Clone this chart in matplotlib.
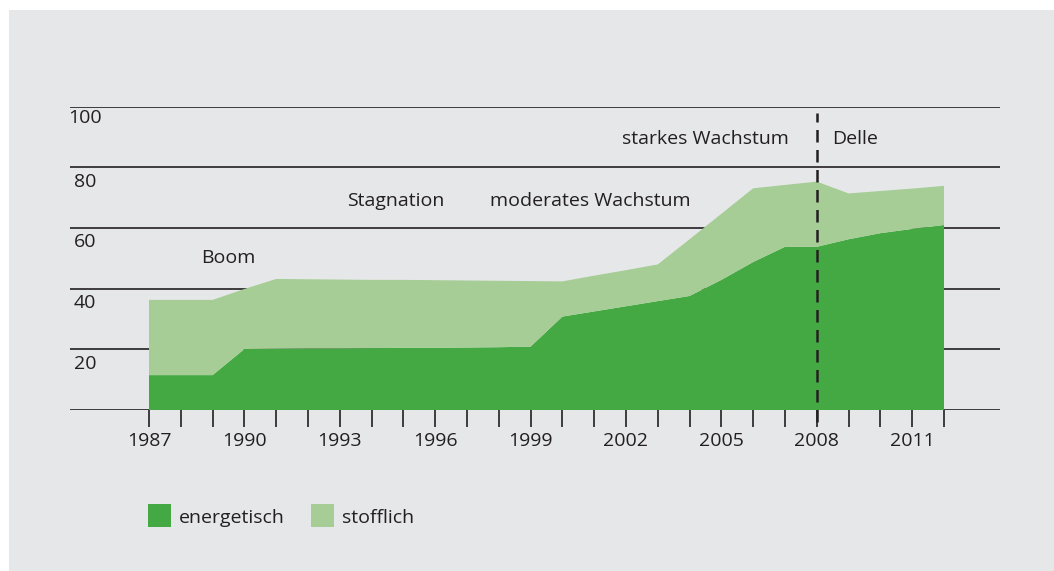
import matplotlib.pyplot as plt
from matplotlib.patches import Rectangle

# data
years = list(range(1987, 2013))
energetisch = [11.5, 11.5, 11.5, 20.1, 20.2, 20.3, 20.3, 20.4, 20.5, 20.5, 20.6, 20.7, 20.9,
               30.8, 32.5, 34.2, 35.9, 37.6, 42.9, 48.8, 53.8, 53.8, 56.3, 58.3, 59.7, 61.0]
gesamt = [36.3, 36.3, 36.3, 39.9, 43.2, 43.1, 43.0, 42.9, 42.9, 42.8, 42.7, 42.6, 42.5,
          42.4, 44.3, 46.1, 48.0, 56.3, 64.7, 73.1, 74.2, 75.3, 71.4, 72.2, 73.0, 73.9]
stofflich = [g - e for g, e in zip(gesamt, energetisch)]

yticks = [20, 40, 60, 80, 100]
xlabels = [1987, 1990, 1993, 1996, 1999, 2002, 2005, 2008, 2011]

phases = [("Boom", 1989.5, 50.2), ("Stagnation", 1994.77, 68.9),
          ("moderates Wachstum", 2000.87, 68.9), ("starkes Wachstum", 2004.5, 89.3)]

dark = "#44a942"
light = "#a5cd95"
bg = "#e6e7e8"
txt = "#231f20"

plt.rcParams["font.family"] = ["Open Sans", "DejaVu Sans"]

fig = plt.figure(figsize=(10.54, 5.71), dpi=100)
fig.patches.append(Rectangle((9 / 1054, 0), 1, 1 - 10 / 571, transform=fig.transFigure,
                             facecolor=bg, edgecolor="none", zorder=-10))

ax = fig.add_axes([70 / 1054, 1 - 410 / 571, 930 / 1054, (410 - 106.7) / 571])
ax.set_facecolor("none")
ax.set_xlim(1987 - 79 / 31.8, 1987 + 851 / 31.8)
ax.set_ylim(0, 100)

for v in [0] + yticks:
    ax.axhline(v, color=txt, lw=1.2, zorder=1)

ax.stackplot(years, energetisch, stofflich, colors=[dark, light], lw=0, zorder=2)

for s in ax.spines.values():
    s.set_visible(False)
ax.set_yticks([])
ax.set_xticks(years)
ax.set_xticklabels([str(y) if y in xlabels else "" for y in years])
ax.tick_params(axis="x", length=12, width=1.2, color=txt, labelsize=14,
               labelcolor=txt, pad=4)

for v in yticks:
    if v == 100:
        ax.text(1987 - 81 / 31.8, v - 3.7, str(v), fontsize=14, color=txt,
                ha="left", va="center")
    else:
        ax.text(1987 - 75 / 31.8, v - 4.7, str(v), fontsize=14, color=txt,
                ha="left", va="center")

ax.plot([2008, 2008], [-4, 98], color=txt, lw=1.8, ls=(0, (5, 3)), clip_on=False, zorder=3)

for label, x, y in phases:
    ax.text(x, y, label, fontsize=14, color=txt, ha="center", va="center", zorder=4)
ax.text(2008.47, 89.3, "Delle", fontsize=14, color=txt, ha="left", va="center", zorder=4)

fig.patches.append(Rectangle((148 / 1054, 1 - 527 / 571), 23 / 1054, 23 / 571,
                             transform=fig.transFigure, facecolor=dark, edgecolor="none"))
fig.patches.append(Rectangle((311 / 1054, 1 - 527 / 571), 23 / 1054, 23 / 571,
                             transform=fig.transFigure, facecolor=light, edgecolor="none"))
fig.text(179 / 1054, 1 - 518 / 571, "energetisch", fontsize=14, color=txt, va="center")
fig.text(342 / 1054, 1 - 518 / 571, "stofflich", fontsize=14, color=txt, va="center")

fig.savefig("out.png", dpi=100, facecolor="white")
